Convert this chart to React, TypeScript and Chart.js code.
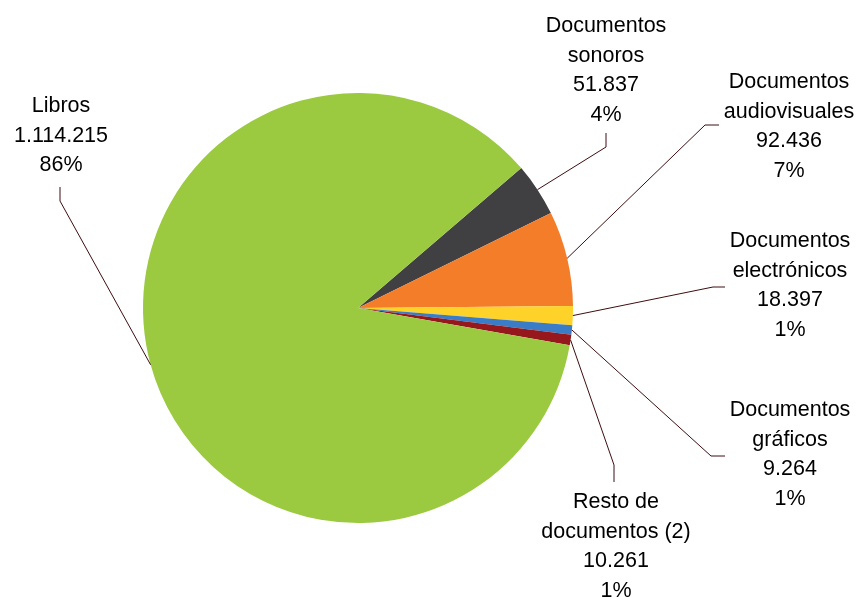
import React, { useEffect, useRef } from "react";
import { Chart, registerables } from "chart.js";

Chart.register(...registerables);

const categories: string[][] = [
  ["Documentos", "sonoros"],
  ["Documentos", "audiovisuales"],
  ["Documentos", "electrónicos"],
  ["Documentos", "gráficos"],
  ["Resto de", "documentos (2)"],
  ["Libros"],
];
const values: number[] = [51837, 92436, 18397, 9264, 10261, 1114215];
const colors: string[] = ["#404043", "#F47D2A", "#FFD22A", "#3A7DC6", "#96181D", "#9BCA40"];

// label layout: elbow point, end point, text centre x, first baseline y
const labelLayout = [
  { elbow: [606, 147], end: [606, 133], tx: 606, ty: 32 },
  { elbow: [705, 125], end: [719, 125], tx: 789, ty: 88 },
  { elbow: [713, 287], end: [725, 287], tx: 790, ty: 247 },
  { elbow: [711, 456], end: [725, 456], tx: 790, ty: 416 },
  { elbow: [614, 465], end: [614, 482], tx: 616, ty: 508 },
  { elbow: [60, 201], end: [60, 187], tx: 61, ty: 112 },
];

function fmtNum(n: number): string {
  return String(n).replace(/\B(?=(\d{3})+(?!\d))/g, ".");
}

const labelPlugin = {
  id: "leaderLabels",
  afterDraw(chart: any) {
    const ctx = chart.ctx;
    const meta = chart.getDatasetMeta(0);
    const total = values.reduce((a, b) => a + b, 0);
    ctx.save();
    meta.data.forEach((arc: any, i: number) => {
      const p = arc.getProps(["x", "y", "startAngle", "endAngle", "outerRadius"], true);
      const mid = (p.startAngle + p.endAngle) / 2;
      const ax = p.x + Math.cos(mid) * p.outerRadius;
      const ay = p.y + Math.sin(mid) * p.outerRadius;
      const L = labelLayout[i];
      ctx.strokeStyle = "#3E0D10";
      ctx.lineWidth = 1;
      ctx.beginPath();
      ctx.moveTo(ax, ay);
      ctx.lineTo(L.elbow[0], L.elbow[1]);
      ctx.lineTo(L.end[0], L.end[1]);
      ctx.stroke();
      const lines = [...categories[i], fmtNum(values[i]), Math.round((values[i] / total) * 100) + "%"];
      ctx.fillStyle = "#000";
      ctx.font = '21.5px "Liberation Sans", Arial, sans-serif';
      ctx.textAlign = "center";
      ctx.textBaseline = "alphabetic";
      lines.forEach((t, k) => ctx.fillText(t, L.tx, L.ty + k * 29.7));
    });
    ctx.restore();
  },
};

export default function App() {
  const ref = useRef<HTMLCanvasElement>(null);
  useEffect(() => {
    if (!ref.current) return;
    const chart = new Chart(ref.current, {
      type: "pie",
      data: {
        labels: categories.map((c) => c.join(" ")),
        datasets: [
          {
            data: values,
            backgroundColor: colors,
            borderWidth: 0,
          },
        ],
      },
      options: {
        responsive: false,
        animation: false,
        devicePixelRatio: 1,
        rotation: 49.4,
        layout: { padding: { left: 143, right: 284, top: 93, bottom: 75 } },
        plugins: { legend: { display: false }, tooltip: { enabled: false } },
      },
      plugins: [labelPlugin],
    });
    return () => chart.destroy();
  }, []);
  return (
    <div style={{ position: "fixed", left: 0, top: 0, width: 857, height: 598, background: "#fff" }}>
      <canvas ref={ref} width={857} height={598} />
    </div>
  );
}
